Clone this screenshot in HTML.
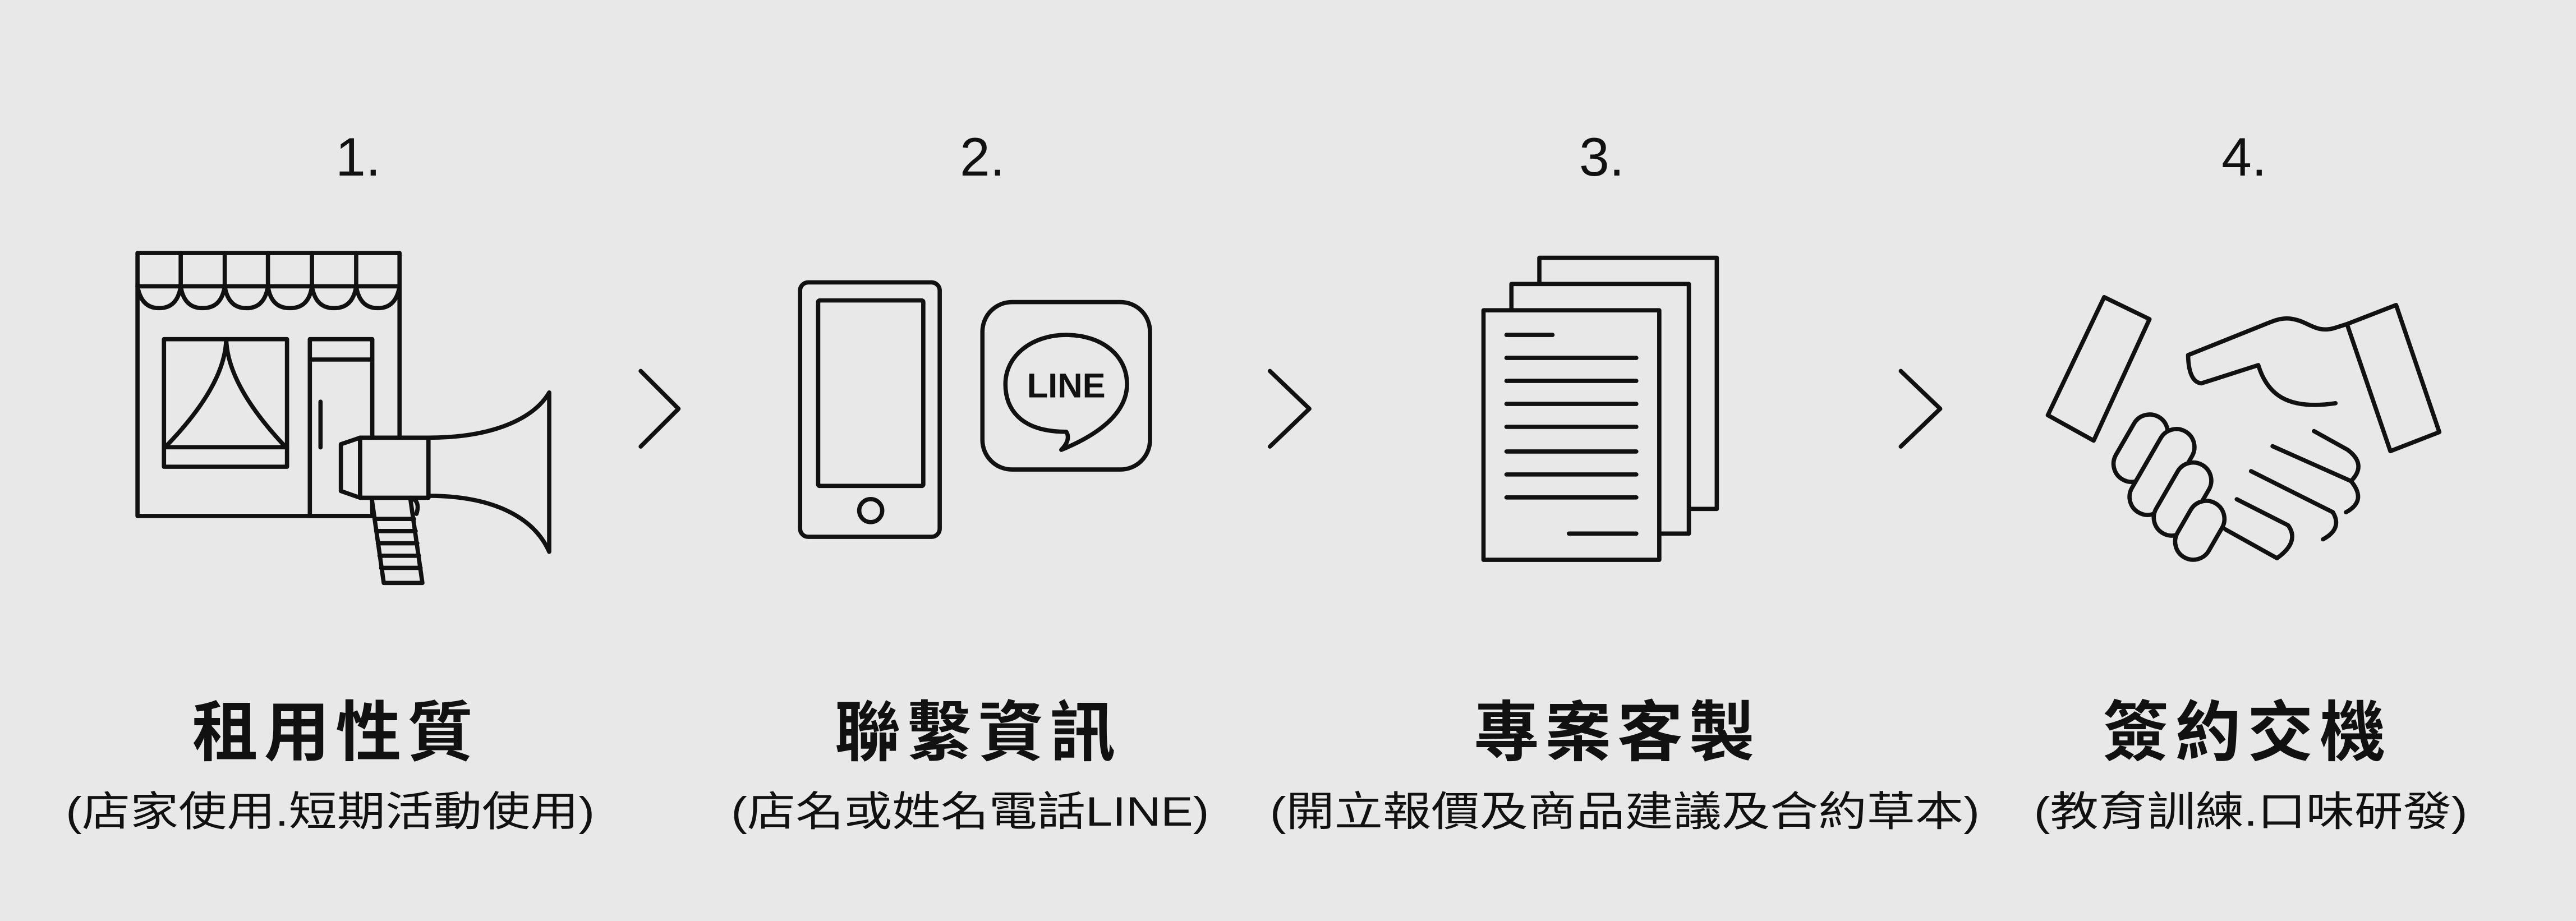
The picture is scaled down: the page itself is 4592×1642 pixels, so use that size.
<!DOCTYPE html>
<html><head><meta charset="utf-8"><style>
html,body{margin:0;padding:0;background:#e8e8e8;}
svg{display:block;}
text{font-family:"Liberation Sans","Noto Sans CJK TC",sans-serif;fill:#111;}
</style></head><body>
<svg width="4592" height="1642" viewBox="0 0 1568 561" preserveAspectRatio="none" xmlns="http://www.w3.org/2000/svg">
<rect width="1568" height="561" fill="#e8e8e8"/>
<g fill="none" stroke="#111" stroke-width="2.6" stroke-linejoin="round" stroke-linecap="round">
<!-- icon 1 building -->
<rect x="83.7" y="154.1" width="159.5" height="160.2"/>
<line x1="83.7" y1="174.4" x2="243.2" y2="174.4"/>
<g>
<line x1="110" y1="154.1" x2="110" y2="174.4"/><line x1="136.8" y1="154.1" x2="136.8" y2="174.4"/>
<line x1="163.1" y1="154.1" x2="163.1" y2="174.4"/><line x1="189.9" y1="154.1" x2="189.9" y2="174.4"/>
<line x1="216.8" y1="154.1" x2="216.8" y2="174.4"/>
</g>
<path d="M83.7,174.4 Q86,187.7 96.8,187.7 Q108,187.7 110,174.4 Q112,187.7 123.4,187.7 Q134.8,187.7 136.8,174.4 Q139,187.7 150,187.7 Q161,187.7 163.1,174.4 Q165,187.7 176.5,187.7 Q188,187.7 189.9,174.4 Q192,187.7 203.3,187.7 Q214.8,187.7 216.8,174.4 Q219,187.7 230,187.7 Q241,187.7 243.2,174.4"/>
<rect x="99.8" y="206.6" width="74.9" height="77.7"/>
<line x1="99.8" y1="272.4" x2="174.7" y2="272.4"/>
<path d="M137.7,206.6 Q137,235 100.5,272.4 M137.7,206.6 Q138.5,235 174,272.4"/>
<rect x="188.6" y="206.6" width="38" height="107.7"/>
<line x1="188.6" y1="219" x2="226.6" y2="219"/>
<line x1="195.1" y1="244.7" x2="195.1" y2="272.5"/>
<!-- megaphone -->
<g fill="#e8e8e8">
<path d="M226.2,303.2 L233.6,355.1 L257.1,355.1 L249.7,303.2 Z"/>
<path d="M207.5,270.6 L219.2,266.6 L219.2,303.2 L207.5,299.1 Z"/>
<rect x="219.2" y="266.6" width="41.6" height="36.6"/>
<path d="M260.8,266.6 C300,266.6 325,255 334.3,239.1 L334.3,336.1 C325,315 300,302 260.8,302 Z"/>
</g>
<path d="M250,303.2 Q256,305 253.5,313"/>
<line x1="228" y1="316.1" x2="252" y2="316.1"/><line x1="229" y1="323.5" x2="253" y2="323.5"/>
<line x1="230" y1="330.9" x2="254" y2="330.9"/><line x1="231" y1="338.5" x2="255" y2="338.5"/>
<line x1="232" y1="345.9" x2="256" y2="345.9"/>
<!-- chevrons -->
<polyline points="390,226 413,249 390,272"/>
<polyline points="773,226 797,249 773,272"/>
<polyline points="1157,226 1181,249 1157,272"/>
<!-- icon 2 -->
<rect x="487" y="172" width="85" height="155" rx="5"/>
<rect x="498" y="183" width="64" height="113" rx="1"/>
<circle cx="530" cy="311" r="7"/>
<rect x="598" y="184" width="102" height="102" rx="18"/>
<path d="M649,263 C620,263 612,248 612,234 C612,216 629,204 649,204 C670,204 686,216 686,234 C686,252 668,265 646,274 C650,270 651,266 649,263 Z"/>
<!-- icon 3 -->
<rect x="937" y="157" width="108" height="153" fill="#e8e8e8"/>
<rect x="920" y="173" width="108" height="152" fill="#e8e8e8"/>
<rect x="903" y="189" width="107" height="152" fill="#e8e8e8"/>
<line x1="917" y1="204" x2="945" y2="204"/>
<line x1="917" y1="218" x2="996" y2="218"/><line x1="917" y1="232" x2="996" y2="232"/>
<line x1="917" y1="246" x2="996" y2="246"/><line x1="917" y1="260" x2="996" y2="260"/>
<line x1="917" y1="275" x2="996" y2="275"/><line x1="917" y1="289" x2="996" y2="289"/>
<line x1="917" y1="303" x2="996" y2="303"/><line x1="955" y1="325" x2="996" y2="325"/>
<!-- icon 4 -->
<polygon points="1280.8,181 1308.4,194.4 1274.4,268.4 1246.5,252.9"/>
<polygon points="1428.6,197.4 1458.5,185.8 1484.8,263.2 1455,274.8"/>
<path d="M1428.6,197.4 L1420.7,199.9 C1410,203 1405,196 1396,194.4 C1390,193 1385,195 1380,197 L1331.9,216.3 C1332,225 1334,233 1340,233.5 L1374.6,222.4 C1380,240 1392,250 1421.6,245.6"/>
<path d="M1408.5,262.6 L1429,274 Q1441,283 1431,293.1"/>
<path d="M1383.3,271.8 L1431,293 Q1441,305 1428,312"/>
<path d="M1370.2,287 L1420,312 Q1426,322 1414,328.5"/>
<path d="M1361.5,304.1 L1392.8,320 Q1400,330 1386,340 L1354.5,322.4"/>
<g fill="#e8e8e8">
<rect x="1292" y="251" width="22" height="44" rx="11" transform="rotate(30 1303 273)"/>
<rect x="1305" y="259" width="22" height="57" rx="11" transform="rotate(30 1316 287.5)"/>
<rect x="1317.5" y="280" width="22" height="48" rx="11" transform="rotate(30 1328.5 304)"/>
<rect x="1328" y="304" width="22" height="38" rx="11" transform="rotate(30 1339 323)"/>
</g>
</g>
<text x="649" y="242" font-size="21" font-weight="bold" text-anchor="middle" font-family="Liberation Sans, sans-serif">LINE</text>
<g font-size="33" text-anchor="middle">
<text x="218" y="107">1.</text><text x="598" y="107">2.</text>
<text x="975" y="107">3.</text><text x="1366" y="107">4.</text>
</g>
<g font-size="40" font-weight="bold">
<text x="117" y="460" textLength="171" lengthAdjust="spacing">租用性質</text>
<text x="508" y="460" textLength="171" lengthAdjust="spacing">聯繫資訊</text>
<text x="897" y="460" textLength="171" lengthAdjust="spacing">專案客製</text>
<text x="1280" y="460" textLength="172" lengthAdjust="spacing">簽約交機</text>
</g>
<g font-size="25">
<text x="40" y="503" textLength="322" lengthAdjust="spacingAndGlyphs">(店家使用.短期活動使用)</text>
<text x="445" y="503" textLength="291" lengthAdjust="spacingAndGlyphs">(店名或姓名電話LINE)</text>
<text x="773" y="503" textLength="432" lengthAdjust="spacingAndGlyphs">(開立報價及商品建議及合約草本)</text>
<text x="1238" y="503" textLength="264" lengthAdjust="spacingAndGlyphs">(教育訓練.口味研發)</text>
</g>
</svg>
</body></html>
